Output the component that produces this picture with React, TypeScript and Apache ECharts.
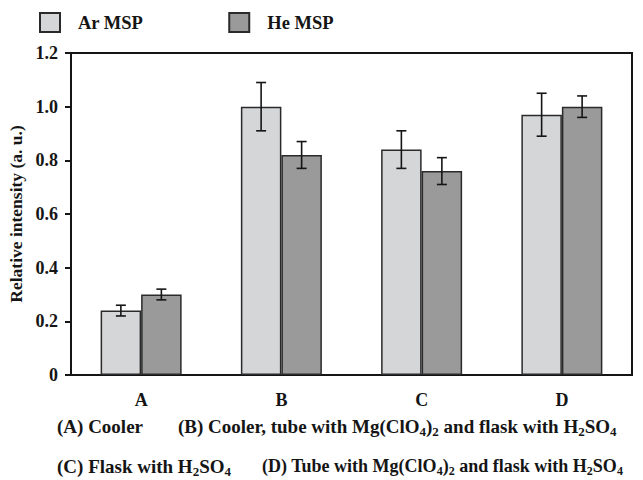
import React, { useEffect, useRef } from "react";
import * as echarts from "echarts";

const categories = ["A", "B", "C", "D"];
const arValues = [0.24, 1.0, 0.84, 0.97];
const arErrors = [0.02, 0.09, 0.07, 0.08];
const heValues = [0.3, 0.82, 0.76, 1.0];
const heErrors = [0.02, 0.05, 0.05, 0.04];
const yTicks = { min: 0, max: 1.2, interval: 0.2 };

const FONT = "'Liberation Serif', 'Times New Roman', serif";
const BAR_W = 40.5;
const INK = "#151515";

function errorSeries(name: string, values: number[], errors: number[], offset: number) {
  return {
    type: "custom",
    name: name + " err",
    z: 5,
    silent: true,
    data: values.map((v, i) => [i, v - errors[i], v + errors[i]]),
    renderItem: (params: any, api: any) => {
      const lo = api.coord([api.value(0), api.value(1)]);
      const hi = api.coord([api.value(0), api.value(2)]);
      const x = lo[0] + offset;
      const cap = 5;
      const style = { stroke: INK, lineWidth: 1.6 };
      return {
        type: "group",
        children: [
          { type: "line", shape: { x1: x, y1: lo[1], x2: x, y2: hi[1] }, style },
          { type: "line", shape: { x1: x - cap, y1: hi[1], x2: x + cap, y2: hi[1] }, style },
          { type: "line", shape: { x1: x - cap, y1: lo[1], x2: x + cap, y2: lo[1] }, style },
        ],
      };
    },
  };
}

function makeRich(size: number) {
  return {
    m: { fontFamily: FONT, fontWeight: "bold", fontSize: size, lineHeight: 22, fill: INK },
    s: {
      fontFamily: FONT,
      fontWeight: "bold",
      fontSize: Math.round(size * 0.68),
      lineHeight: 10,
      verticalAlign: "bottom",
      fill: INK,
    },
  };
}

function caption(text: string, x: number, y: number, size = 19) {
  return {
    type: "text",
    left: x,
    top: y,
    style: { text, rich: makeRich(size), fontFamily: FONT, fontSize: size, fontWeight: "bold", fill: INK },
  };
}

export default function App() {
  const ref = useRef<HTMLDivElement>(null);
  useEffect(() => {
    if (!ref.current) return;
    const chart = echarts.init(ref.current, null, { renderer: "svg" });
    chart.setOption({
      animation: false,
      backgroundColor: "#ffffff",
      textStyle: { fontFamily: FONT },
      legend: {
        left: 39,
        top: 12,
        padding: 0,
        itemWidth: 20,
        itemHeight: 19,
        itemGap: 85,
        icon: "rect",
        data: ["Ar MSP", "He MSP"],
        textStyle: {
          fontFamily: FONT,
          fontWeight: "bold",
          fontSize: 18.5,
          color: INK,
          padding: [0, 0, 0, 13],
        },
      },
      grid: {
        left: 71,
        right: 11,
        top: 53,
        bottom: 105,
        show: true,
        borderColor: INK,
        borderWidth: 2,
        outerBoundsMode: "none",
      },
      xAxis: {
        type: "category",
        data: categories,
        axisLine: { lineStyle: { color: INK, width: 2 } },
        axisTick: { alignWithLabel: true, length: 6, lineStyle: { color: INK, width: 2 } },
        axisLabel: { fontFamily: FONT, fontWeight: "bold", fontSize: 18, color: INK, margin: 16 },
      },
      yAxis: {
        type: "value",
        min: yTicks.min,
        max: yTicks.max,
        interval: yTicks.interval,
        name: "Relative intensity (a. u.)",
        nameLocation: "middle",
        nameGap: 43,
        nameTextStyle: { fontFamily: FONT, fontWeight: "bold", fontSize: 17.5, color: INK },
        splitLine: { show: false },
        axisLine: { show: true, lineStyle: { color: INK, width: 2 } },
        axisTick: { show: true, length: 6, lineStyle: { color: INK, width: 2 } },
        axisLabel: {
          fontFamily: FONT,
          fontWeight: "bold",
          fontSize: 18,
          color: INK,
          margin: 13,
          formatter: (v: number) => (v === 0 ? "0" : v.toFixed(1)),
        },
      },
      series: [
        {
          type: "bar",
          name: "Ar MSP",
          data: arValues,
          barWidth: BAR_W,
          barGap: "0%",
          itemStyle: { color: "#d5d6d8", borderColor: "#2a2a2a", borderWidth: 1.5 },
        },
        {
          type: "bar",
          name: "He MSP",
          data: heValues,
          barWidth: BAR_W,
          barGap: "0%",
          itemStyle: { color: "#9a9a9b", borderColor: "#2a2a2a", borderWidth: 1.5 },
        },
        errorSeries("Ar MSP", arValues, arErrors, -BAR_W / 2),
        errorSeries("He MSP", heValues, heErrors, BAR_W / 2),
      ],
      graphic: [
        caption("{m|(A) Cooler}", 57, 417),
        caption(
          "{m|(B) Cooler, tube with Mg(ClO}{s|4}{m|)}{s|2}{m| and flask with H}{s|2}{m|SO}{s|4}",
          178,
          417
        ),
        caption("{m|(C) Flask with H}{s|2}{m|SO}{s|4}", 57, 457),
        caption(
          "{m|(D) Tube with Mg(ClO}{s|4}{m|)}{s|2}{m| and flask with H}{s|2}{m|SO}{s|4}",
          262,
          457,
          18
        ),
      ],
    });
    return () => chart.dispose();
  }, []);
  return (
    <div
      ref={ref}
      style={{ position: "fixed", left: 0, top: 0, width: 643, height: 480 }}
    />
  );
}
